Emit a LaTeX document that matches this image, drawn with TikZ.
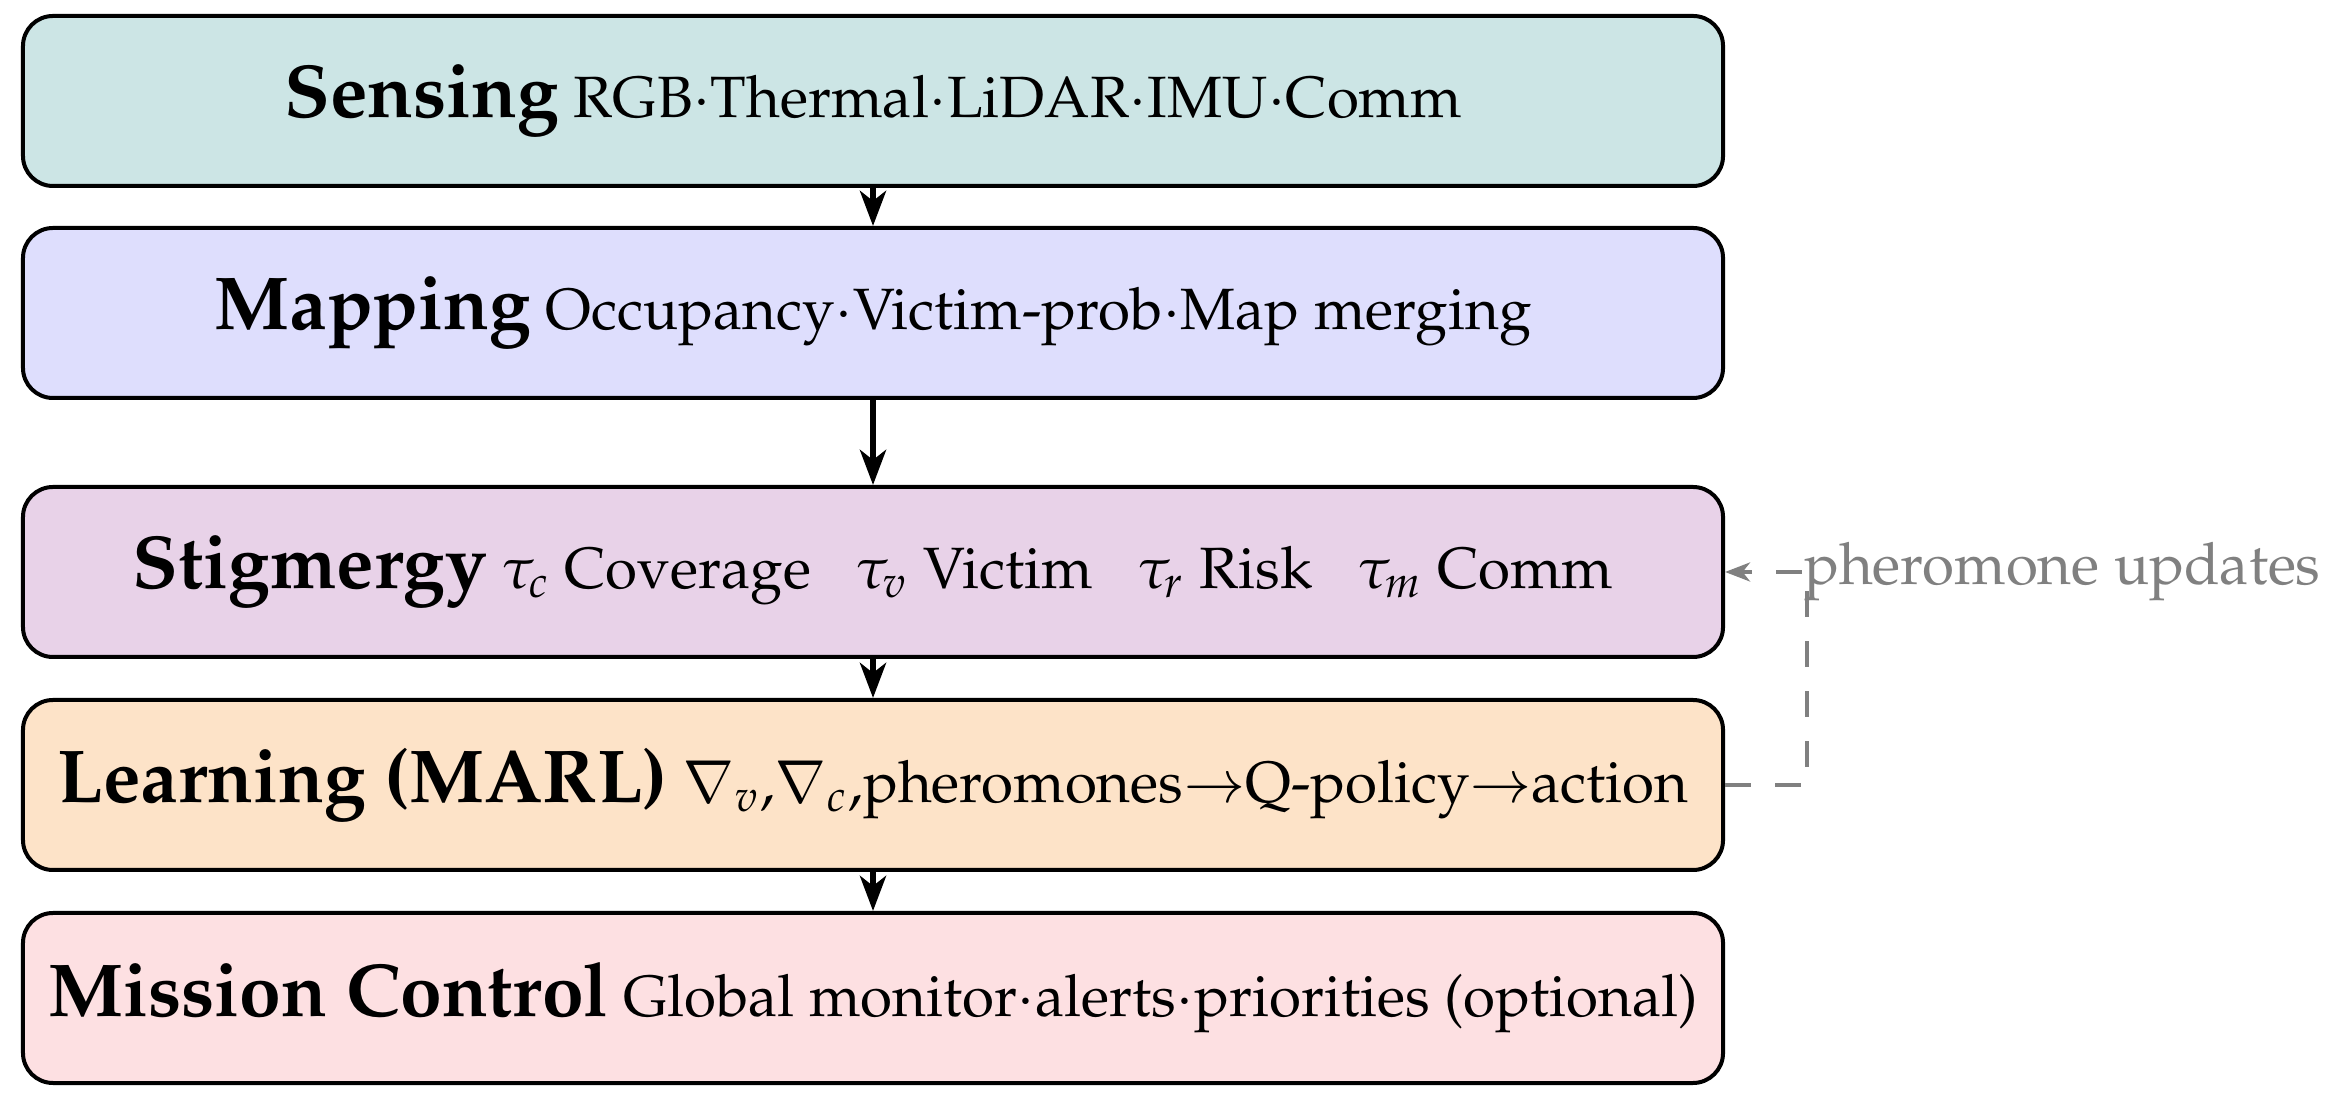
\documentclass[tikz,border=0pt]{standalone}
\usepackage[T1]{fontenc}
\usepackage{mathpazo}
\usetikzlibrary{arrows.meta}
\definecolor{sensefill}{RGB}{204,229,229}
\definecolor{mapfill}{RGB}{222,222,253}
\definecolor{stigfill}{RGB}{232,210,232}
\definecolor{learnfill}{RGB}{253,227,200}
\definecolor{missfill}{RGB}{253,224,226}
\newcommand{\hdr}[1]{{\fontsize{15}{18}\selectfont\bfseries #1}}
\newcommand{\tgap}{\hspace{9pt}}
\begin{document}
\begin{tikzpicture}[x=0.2pt,y=-0.2pt,
  box/.style={draw=black, line width=0.8pt, rounded corners=6pt,
    minimum width=340pt, minimum height=34pt, inner sep=0pt,
    font=\fontsize{11.65}{14}\selectfont},
  flow/.style={line width=1.2pt, -{Stealth[length=7pt,width=5.2pt,inset=2pt]}},
  fb/.style={draw=gray, line width=0.8pt, dash pattern=on 5.2pt off 4.8pt,
    -{Stealth[length=5pt,width=3.8pt,inset=1.5pt]}},
  lbl/.style={text=gray, inner sep=0pt, font=\fontsize{11.65}{14}\selectfont}
]
\useasboundingbox (0,0) rectangle (2340,1113);
\node[box, fill=sensefill] (sense) at (873,101)
  {\hdr{Sensing} RGB$\cdot$Thermal$\cdot$LiDAR$\cdot$IMU$\cdot$Comm};
\node[box, fill=mapfill] (map) at (873,313)
  {\hdr{Mapping} Occupancy$\cdot$Victim-prob$\cdot$Map merging};
\node[box, fill=stigfill] (stig) at (873,572)
  {\hdr{Stigmergy} $\tau_c$ Coverage\tgap$\tau_v$ Victim\tgap$\tau_r$ Risk\tgap$\tau_m$ Comm};
\node[box, fill=learnfill] (learn) at (873,785)
  {\hdr{Learning (MARL)} $\nabla_v$,$\nabla_c$,pheromones$\rightarrow$Q-policy$\rightarrow$action};
\node[box, fill=missfill] (miss) at (873,998)
  {\hdr{Mission Control} Global monitor$\cdot$alerts$\cdot$priorities (optional)};
\draw[flow] (sense.south) -- (map.north);
\draw[flow] (map.south) -- (stig.north);
\draw[flow] (stig.south) -- (learn.north);
\draw[flow] (learn.south) -- (miss.north);
\coordinate (bend) at (1807,785);
\draw[fb] (learn.east) -- (bend) |- (stig.east);
\node[lbl, anchor=west] (upd) at (1803,572) {pheromone updates};
\end{tikzpicture}
\end{document}
